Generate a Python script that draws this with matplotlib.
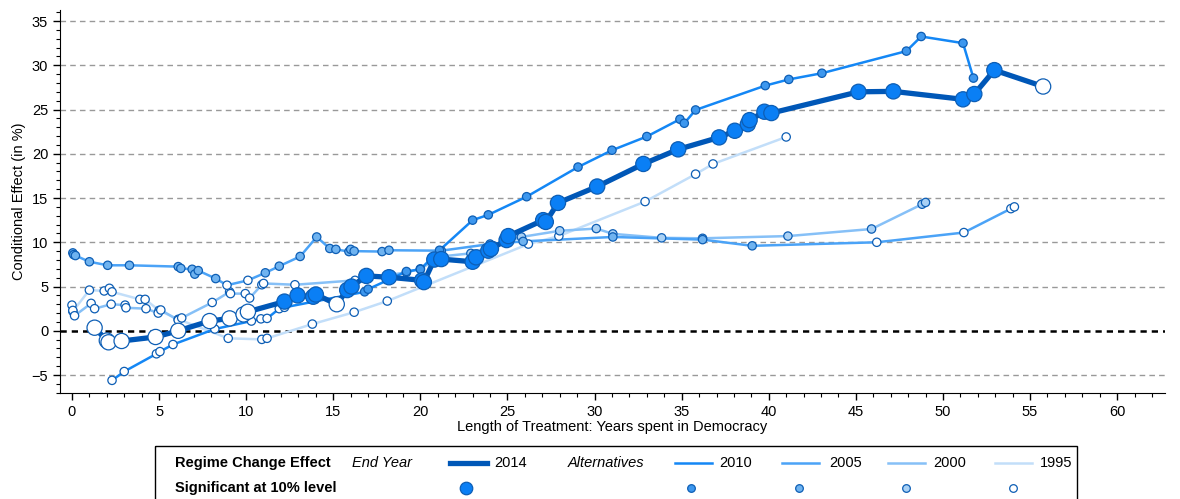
import matplotlib
matplotlib.use("Agg")
import matplotlib.pyplot as plt
from matplotlib.lines import Line2D
from matplotlib.patches import Rectangle

plt.rcParams['font.family'] = ['Liberation Sans', 'DejaVu Sans']

# 2014 end year (main estimate)
x14 = [1.3, 2.0, 2.1, 2.85, 4.8, 6.1, 7.9, 9.05, 9.85, 10.1, 12.2, 12.95, 13.85, 14.0, 15.2,
       15.8, 16.05, 16.9, 18.2, 20.1, 20.2, 20.8, 21.2, 23.0, 23.2, 23.9, 24.05, 24.95, 25.05,
       27.05, 27.2, 27.9, 30.15, 32.8, 34.8, 37.15, 38.05, 38.8, 38.9, 39.75, 40.15, 45.15,
       47.15, 51.15, 51.8, 52.95, 55.75]
y14 = [0.35, -1.1, -1.3, -1.15, -0.7, 0.0, 1.1, 1.4, 1.85, 2.15, 3.3, 4.0, 3.85, 4.1, 3.0,
       4.6, 5.0, 6.2, 6.05, 5.7, 5.5, 8.05, 8.1, 7.8, 8.3, 9.05, 9.25, 10.25, 10.7,
       12.5, 12.3, 14.45, 16.3, 18.85, 20.5, 21.85, 22.6, 23.35, 23.8, 24.75, 24.6, 27.0,
       27.05, 26.15, 26.75, 29.45, 27.6]
sig14 = [0] * 10 + [1, 1, 1, 1, 0] + [1] * 31 + [0]

# alternatives
x10 = [2.3, 3.0, 4.85, 5.05, 5.8, 8.2, 10.3, 10.85, 11.2, 11.9, 12.2, 16.8, 17.0, 19.2, 20.0,
       21.1, 23.0, 23.9, 26.1, 29.05, 31.0, 33.0, 34.9, 35.15, 35.8, 39.8, 41.15, 43.05, 47.9,
       48.75, 51.15, 51.75]
y10 = [-5.6, -4.6, -2.6, -2.35, -1.55, 0.2, 1.1, 1.35, 1.4, 2.5, 2.65, 4.4, 4.7, 6.7, 6.95,
       9.1, 12.5, 13.1, 15.15, 18.5, 20.4, 21.95, 23.9, 23.45, 24.95, 27.7, 28.4, 29.1, 31.6,
       33.25, 32.5, 28.55]
sig10 = [0] * 11 + [1] * 21

x05 = [0.05, 0.1, 0.2, 1.0, 2.05, 3.3, 6.1, 6.25, 6.9, 7.05, 7.25, 8.25, 8.9, 10.1, 11.1,
       11.9, 13.1, 14.05, 14.8, 15.15, 15.9, 16.0, 16.2, 17.8, 18.2, 21.2, 24.0, 25.9, 31.05,
       36.2, 39.05, 46.2, 51.2, 53.9, 54.1]
y05 = [8.8, 8.6, 8.5, 7.8, 7.4, 7.4, 7.25, 7.05, 6.95, 6.4, 6.8, 5.9, 5.15, 5.7, 6.55,
       7.3, 8.4, 10.6, 9.3, 9.2, 8.95, 9.2, 9.0, 8.95, 9.1, 9.05, 9.8, 10.1, 10.6,
       10.3, 9.6, 10.0, 11.1, 13.8, 14.0]
sig05 = [1] * 12 + [0, 0] + [1] * 17 + [0] * 4

x00 = [0.0, 0.05, 0.15, 1.1, 1.3, 2.25, 3.05, 3.1, 4.25, 4.95, 5.1, 6.1, 6.3, 8.05, 9.05,
       9.1, 9.95, 10.2, 10.9, 11.0, 12.8, 16.25, 19.2, 20.0, 21.2, 22.9, 24.2, 25.8, 28.0,
       30.1, 31.05, 33.85, 36.2, 41.1, 45.9, 48.8, 49.0]
y00 = [2.9, 2.3, 1.7, 3.1, 2.5, 3.0, 2.9, 2.6, 2.5, 2.0, 2.35, 1.2, 1.45, 3.2, 4.4,
       4.2, 4.2, 3.7, 5.2, 5.35, 5.2, 5.7, 6.6, 7.0, 8.4, 8.75, 9.6, 10.6, 11.3,
       11.55, 10.95, 10.5, 10.45, 10.7, 11.5, 14.3, 14.5]
sig00 = [0] * 22 + [1] * 15

x95 = [0.05, 1.0, 1.85, 2.15, 2.3, 3.9, 4.2, 5.0, 6.1, 8.97, 10.9, 11.2, 13.8, 16.2, 18.1,
       26.2, 27.95, 32.9, 35.8, 36.8, 41.0]
y95 = [2.2, 4.6, 4.5, 4.8, 4.4, 3.55, 3.55, 2.3, 1.3, -0.85, -0.97, -0.85, 0.76, 2.1, 3.36,
       9.8, 10.7, 14.6, 17.7, 18.85, 21.9]
sig95 = [0] * 21

years = ['2014', '2010', '2005', '2000', '1995']
line_cols = ['#0057b7', '#1487f5', '#4ba3f7', '#86c0f7', '#c2def9']
fill_cols = ['#0a7ff5', '#3d97ee', '#6fb3f0', '#a9d1f5', '#ffffff']
edge = '#0d5eb5'

fig = plt.figure(figsize=(11.8, 4.99), dpi=100)
ax = fig.add_axes([0.0508, 0.2124, 0.9364, 0.7675])

for v in range(-5, 40, 5):
    if v != 0:
        ax.axhline(v, color='#999999', lw=1, ls=(0, (4, 3)), zorder=0)
ax.axhline(0, color='black', lw=1.8, ls=(0, (2.5, 2)), zorder=1)

series = [(x95, y95, sig95, 4), (x00, y00, sig00, 3), (x05, y05, sig05, 2), (x10, y10, sig10, 1)]
for xs, ys, sg, i in series:
    ax.plot(xs, ys, color=line_cols[i], lw=1.8, zorder=2 + (4 - i) * 0.1)
    fc = [fill_cols[i] if s else 'white' for s in sg]
    ax.scatter(xs, ys, s=36, facecolors=fc, edgecolors=edge, linewidths=0.9, zorder=3 + (4 - i) * 0.1)

ax.plot(x14, y14, color=line_cols[0], lw=3.8, zorder=4)
fc14 = [fill_cols[0] if s else 'white' for s in sig14]
ax.scatter(x14, y14, s=120, facecolors=fc14, edgecolors=edge, linewidths=0.9, zorder=5)

ax.set_xlim(-0.69, 62.74)
ax.set_ylim(-7.03, 36.24)
ax.set_xticks(range(0, 61, 5))
ax.set_xticks(range(0, 63), minor=True)
ax.set_yticks(range(-5, 36, 5))
ax.set_yticks(range(-7, 37), minor=True)
ax.tick_params(which='major', length=5, width=1, labelsize=10.5, direction='out')
ax.tick_params(which='minor', length=3, width=0.8, direction='out')
ax.spines['top'].set_visible(False)
ax.spines['right'].set_visible(False)
ax.set_xlabel('Length of Treatment: Years spent in Democracy', fontsize=10.5, labelpad=1)
ax.set_ylabel('Conditional Effect (in %)', fontsize=10.5, labelpad=4)

# legend box drawn by hand
lg = fig.add_axes([0, 0, 1, 1], facecolor='none')
lg.set_xlim(0, 1180)
lg.set_ylim(499, 0)
lg.axis('off')
lg.add_patch(Rectangle((155, 446), 922, 80, fill=False, ec='black', lw=1))
lg.text(175, 463, 'Regime Change Effect', fontsize=10.5, fontweight='bold', va='center')
lg.text(352, 463, 'End Year', fontsize=10.5, style='italic', va='center')
lg.text(568, 463, 'Alternatives', fontsize=10.5, style='italic', va='center')
lg.text(175, 488, 'Significant at 10% level', fontsize=10.5, fontweight='bold', va='center')
line_x = [450, 675, 782, 888, 995]
text_x = [494, 719, 829, 933, 1040]
mark_x = [466, 691, 799, 906, 1013]
for i, yr in enumerate(years):
    lg.add_line(Line2D([line_x[i], line_x[i] + 37], [463, 463], color=line_cols[i],
                       lw=3.8 if i == 0 else 1.8))
    lg.text(text_x[i], 463, yr, fontsize=10.5, va='center')
    lg.plot(mark_x[i], 488, 'o', ms=9 if i == 0 else 5.5, mfc=fill_cols[i], mec=edge, mew=0.9)

fig.savefig('out.png', dpi=100)
